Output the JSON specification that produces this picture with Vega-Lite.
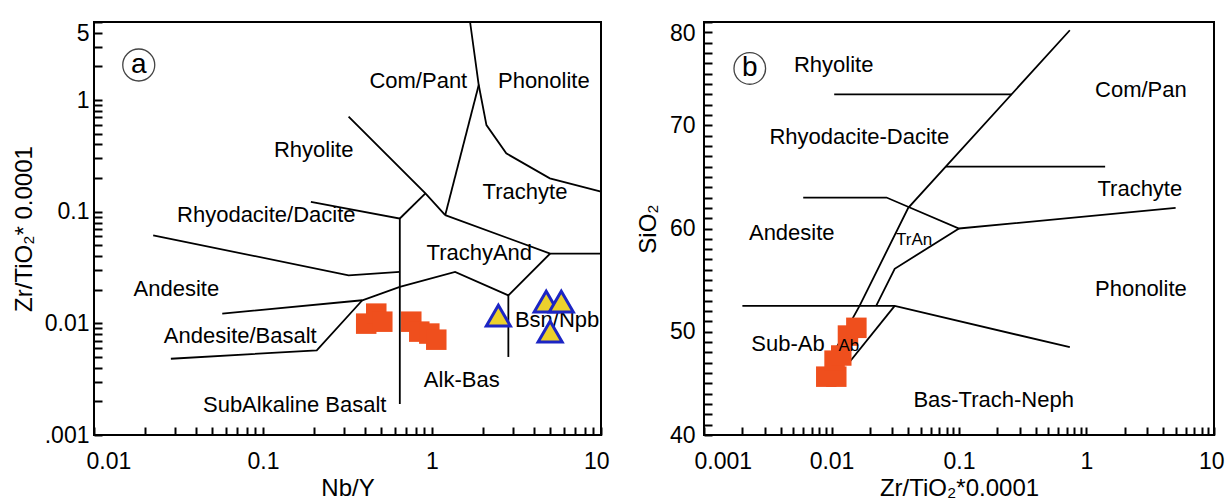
{
  "$schema": "https://vega.github.io/schema/vega-lite/v6.json",
  "padding": {"left": 11, "top": 17, "right": 0, "bottom": 0},
  "background": "white",
  "spacing": 103,
  "bounds": "flush",
  "config": {
    "font": "Liberation Sans",
    "view": {"stroke": "black", "strokeWidth": 2},
    "axis": {"grid": false, "domain": false, "labelColor": "black", "labelFont": "Liberation Sans", "labelFontSize": 23, "titleFont": "Liberation Sans", "titleFontSize": 24, "titleFontWeight": "normal", "titleColor": "black", "labelOverlap": false, "labelAngle": 0},
    "text": {"font": "Liberation Sans", "color": "black"}
  },
  "datasets": {
    "a_lines": [
      {"g": 1, "i": 1, "x": 1.68, "y": 5}, {"g": 1, "i": 2, "x": 1.89, "y": 1.363}, {"g": 1, "i": 3, "x": 2.1, "y": 0.597}, {"g": 1, "i": 4, "x": 2.75, "y": 0.333}, {"g": 1, "i": 5, "x": 4.98, "y": 0.199}, {"g": 1, "i": 6, "x": 10, "y": 0.151},
      {"g": 2, "i": 1, "x": 1.89, "y": 1.363}, {"g": 2, "i": 2, "x": 1.197, "y": 0.093},
      {"g": 3, "i": 1, "x": 0.321, "y": 0.71}, {"g": 3, "i": 2, "x": 0.9145, "y": 0.1456}, {"g": 3, "i": 3, "x": 1.197, "y": 0.093},
      {"g": 4, "i": 1, "x": 0.9145, "y": 0.1456}, {"g": 4, "i": 2, "x": 0.645, "y": 0.0869},
      {"g": 5, "i": 1, "x": 0.192, "y": 0.1227}, {"g": 5, "i": 2, "x": 0.645, "y": 0.0869}, {"g": 5, "i": 3, "x": 0.645, "y": 0.0019},
      {"g": 6, "i": 1, "x": 1.197, "y": 0.093}, {"g": 6, "i": 2, "x": 5, "y": 0.0422}, {"g": 6, "i": 3, "x": 10, "y": 0.0422},
      {"g": 7, "i": 1, "x": 0.0224, "y": 0.0615}, {"g": 7, "i": 2, "x": 0.321, "y": 0.0269}, {"g": 7, "i": 3, "x": 0.645, "y": 0.0289},
      {"g": 8, "i": 1, "x": 0.0574, "y": 0.0122}, {"g": 8, "i": 2, "x": 0.387, "y": 0.0161}, {"g": 8, "i": 3, "x": 0.645, "y": 0.0212}, {"g": 8, "i": 4, "x": 1.37, "y": 0.0289}, {"g": 8, "i": 5, "x": 2.83, "y": 0.0178}, {"g": 8, "i": 6, "x": 5, "y": 0.0422},
      {"g": 9, "i": 1, "x": 0.0285, "y": 0.00482}, {"g": 9, "i": 2, "x": 0.208, "y": 0.00573}, {"g": 9, "i": 3, "x": 0.387, "y": 0.0161},
      {"g": 10, "i": 1, "x": 2.83, "y": 0.0178}, {"g": 10, "i": 2, "x": 2.83, "y": 0.005}
    ],
    "a_text": [
      {"t": "Com/Pant", "x": 0.83, "y": 1.486},
      {"t": "Phonolite", "x": 4.59, "y": 1.486},
      {"t": "Rhyolite", "x": 0.1993, "y": 0.356},
      {"t": "Trachyte", "x": 3.55, "y": 0.1486},
      {"t": "Rhyodacite/Dacite", "x": 0.1046, "y": 0.093},
      {"t": "TrachyAnd", "x": 1.905, "y": 0.0431},
      {"t": "Andesite", "x": 0.0307, "y": 0.0205},
      {"t": "Andesite/Basalt", "x": 0.0734, "y": 0.0077},
      {"t": "Bsn/Npb", "x": 5.5, "y": 0.0108},
      {"t": "Alk-Bas", "x": 1.5, "y": 0.00308},
      {"t": "SubAlkaline Basalt", "x": 0.154, "y": 0.00184}
    ],
    "a_sq": [
      {"x": 0.408, "y": 0.00994}, {"x": 0.468, "y": 0.01222}, {"x": 0.508, "y": 0.01035},
      {"x": 0.754, "y": 0.01035}, {"x": 0.841, "y": 0.00843}, {"x": 0.964, "y": 0.0081}, {"x": 1.06, "y": 0.00714}
    ],
    "a_tri": [
      {"x": 2.47, "y": 0.01172}, {"x": 4.74, "y": 0.01563}, {"x": 5.82, "y": 0.01563}, {"x": 5.0, "y": 0.00843}
    ],
    "a_tag": [{"t": "a", "x": 0.0184, "y": 2.06}],
    "b_lines": [
      {"g": 1, "i": 1, "x": 0.74, "y": 79.2}, {"g": 1, "i": 2, "x": 0.04, "y": 62}, {"g": 1, "i": 3, "x": 0.0166, "y": 52.5}, {"g": 1, "i": 4, "x": 0.0096, "y": 47.2},
      {"g": 2, "i": 1, "x": 0.0105, "y": 73}, {"g": 2, "i": 2, "x": 0.259, "y": 73},
      {"g": 3, "i": 1, "x": 0.079, "y": 66}, {"g": 3, "i": 2, "x": 1.4, "y": 66},
      {"g": 4, "i": 1, "x": 0.006, "y": 63}, {"g": 4, "i": 2, "x": 0.027, "y": 63}, {"g": 4, "i": 3, "x": 0.1, "y": 60}, {"g": 4, "i": 4, "x": 5, "y": 62},
      {"g": 5, "i": 1, "x": 0.1, "y": 60}, {"g": 5, "i": 2, "x": 0.0313, "y": 56.1}, {"g": 5, "i": 3, "x": 0.0224, "y": 52.5},
      {"g": 6, "i": 1, "x": 0.002, "y": 52.5}, {"g": 6, "i": 2, "x": 0.0313, "y": 52.5}, {"g": 6, "i": 3, "x": 0.74, "y": 48.5},
      {"g": 7, "i": 1, "x": 0.0313, "y": 52.5}, {"g": 7, "i": 2, "x": 0.0137, "y": 47}
    ],
    "b_text": [
      {"t": "Rhyolite", "x": 0.01039, "y": 75.82},
      {"t": "Com/Pan", "x": 2.67, "y": 73.4},
      {"t": "Rhyodacite-Dacite", "x": 0.01652, "y": 68.87},
      {"t": "Trachyte", "x": 2.62, "y": 63.86},
      {"t": "Andesite", "x": 0.00488, "y": 59.6},
      {"t": "Phonolite", "x": 2.67, "y": 54.16},
      {"t": "Sub-Ab", "x": 0.00456, "y": 48.83},
      {"t": "Bas-Trach-Neph", "x": 0.187, "y": 43.4}
    ],
    "b_small": [
      {"t": "TrAn", "x": 0.0445, "y": 58.9},
      {"t": "Ab", "x": 0.01368, "y": 48.58}
    ],
    "b_sq": [
      {"x": 0.0091, "y": 45.65}, {"x": 0.0109, "y": 45.65}, {"x": 0.01057, "y": 47.2}, {"x": 0.01193, "y": 47.7}, {"x": 0.01346, "y": 49.63}, {"x": 0.01567, "y": 50.38}
    ],
    "b_tag": [{"t": "b", "x": 0.002286, "y": 75.5}]
  },
  "hconcat": [
    {
      "width": 507,
      "height": 413,
      "layer": [
        {
          "data": {"name": "a_lines"},
          "mark": {"type": "line", "color": "black", "strokeWidth": 1.8},
          "encoding": {
            "x": {"field": "x", "type": "quantitative", "scale": {"type": "log", "domain": [0.01, 10], "nice": false},
              "axis": {"orient": "bottom", "values": [0.01,0.02,0.03,0.04,0.05,0.06,0.07,0.08,0.09,0.1,0.2,0.3,0.4,0.5,0.6,0.7,0.8,0.9,1,2,3,4,5,6,7,8,9,10], "offset": -8, "tickSize": 8, "tickColor": "black", "tickWidth": 2,
                "labelExpr": "datum.value==0.01?'0.01':datum.value==0.1?'0.1':datum.value==1?'1':datum.value==10?'10':''",
                "labelPadding": 15, "labelFlush": true, "labelFlushOffset": 8,
                "title": "Nb/Y", "titlePadding": 6, "minExtent": 43, "maxExtent": 43}},
            "y": {"field": "y", "type": "quantitative", "scale": {"type": "log", "domain": [0.001, 5], "nice": false},
              "axis": {"orient": "left", "values": [0.001,0.002,0.003,0.004,0.005,0.006,0.007,0.008,0.009,0.01,0.02,0.03,0.04,0.05,0.06,0.07,0.08,0.09,0.1,0.2,0.3,0.4,0.5,0.6,0.7,0.8,0.9,1,2,3,4,5], "offset": -8, "tickSize": 8, "tickColor": "black", "tickWidth": 2,
                "labelExpr": "datum.value==5?'5':datum.value==1?'1':datum.value==0.1?'0.1':datum.value==0.01?'0.01':datum.value==0.001?'.001':''",
                "labelPadding": 5,
                "labelBaseline": {"condition": {"test": "datum.value==5", "value": "top"}, "value": "middle"},
                "title": "Zr/TiO₂* 0.0001", "titlePadding": 8, "minExtent": 58, "maxExtent": 58}},
            "detail": {"field": "g", "type": "nominal"},
            "order": {"field": "i", "type": "quantitative"}
          }
        },
        {
          "data": {"name": "a_text"},
          "mark": {"type": "text", "fontSize": 22, "align": "center", "baseline": "middle"},
          "encoding": {
            "x": {"field": "x", "type": "quantitative", "scale": {"type": "log", "domain": [0.01, 10], "nice": false}, "axis": null},
            "y": {"field": "y", "type": "quantitative", "scale": {"type": "log", "domain": [0.001, 5], "nice": false}, "axis": null},
            "text": {"field": "t", "type": "nominal"}
          }
        },
        {
          "data": {"name": "a_sq"},
          "mark": {"type": "point", "shape": "square", "filled": true, "color": "#ef4f1d", "opacity": 1, "size": 420},
          "encoding": {
            "x": {"field": "x", "type": "quantitative", "scale": {"type": "log", "domain": [0.01, 10], "nice": false}, "axis": null},
            "y": {"field": "y", "type": "quantitative", "scale": {"type": "log", "domain": [0.001, 5], "nice": false}, "axis": null}
          }
        },
        {
          "data": {"name": "a_tri"},
          "mark": {"type": "point", "shape": "triangle-up", "filled": true, "fill": "#ecd12c", "stroke": "#1c25c4", "strokeWidth": 3, "opacity": 1, "size": 580},
          "encoding": {
            "x": {"field": "x", "type": "quantitative", "scale": {"type": "log", "domain": [0.01, 10], "nice": false}, "axis": null},
            "y": {"field": "y", "type": "quantitative", "scale": {"type": "log", "domain": [0.001, 5], "nice": false}, "axis": null}
          }
        },
        {
          "data": {"name": "a_tag"},
          "mark": {"type": "point", "shape": "circle", "filled": false, "stroke": "#444444", "strokeWidth": 1.3, "opacity": 1, "size": 1024},
          "encoding": {
            "x": {"field": "x", "type": "quantitative", "scale": {"type": "log", "domain": [0.01, 10], "nice": false}, "axis": null},
            "y": {"field": "y", "type": "quantitative", "scale": {"type": "log", "domain": [0.001, 5], "nice": false}, "axis": null}
          }
        },
        {
          "data": {"name": "a_tag"},
          "mark": {"type": "text", "fontSize": 28, "align": "center", "baseline": "middle"},
          "encoding": {
            "x": {"field": "x", "type": "quantitative", "scale": {"type": "log", "domain": [0.01, 10], "nice": false}, "axis": null},
            "y": {"field": "y", "type": "quantitative", "scale": {"type": "log", "domain": [0.001, 5], "nice": false}, "axis": null},
            "text": {"field": "t", "type": "nominal"}
          }
        }
      ],
      "resolve": {"axis": {"x": "independent", "y": "independent"}}
    },
    {
      "width": 510,
      "height": 413,
      "layer": [
        {
          "data": {"name": "b_lines"},
          "mark": {"type": "line", "color": "black", "strokeWidth": 1.8},
          "encoding": {
            "x": {"field": "x", "type": "quantitative", "scale": {"type": "log", "domain": [0.001, 10], "nice": false},
              "axis": {"orient": "bottom", "values": [0.001,0.002,0.003,0.004,0.005,0.006,0.007,0.008,0.009,0.01,0.02,0.03,0.04,0.05,0.06,0.07,0.08,0.09,0.1,0.2,0.3,0.4,0.5,0.6,0.7,0.8,0.9,1,2,3,4,5,6,7,8,9,10], "offset": -8, "tickSize": 8, "tickColor": "black", "tickWidth": 2,
                "labelExpr": "datum.value==0.001?'0.001':datum.value==0.01?'0.01':datum.value==0.1?'0.1':datum.value==1?'1':datum.value==10?'10':''",
                "labelPadding": 15, "labelFlush": true, "labelFlushOffset": 10,
                "title": "Zr/TiO₂*0.0001", "titlePadding": 6, "minExtent": 43, "maxExtent": 43}},
            "y": {"field": "y", "type": "quantitative", "scale": {"domain": [40, 80], "nice": false, "zero": false},
              "axis": {"orient": "left", "values": [40,41,42,43,44,45,46,47,48,49,50,51,52,53,54,55,56,57,58,59,60,61,62,63,64,65,66,67,68,69,70,71,72,73,74,75,76,77,78,79,80], "offset": -8, "tickSize": 8, "tickColor": "black", "tickWidth": 2,
                "labelExpr": "datum.value%10==0?format(datum.value,'d'):''",
                "labelPadding": 9,
                "labelBaseline": {"condition": {"test": "datum.value==80", "value": "top"}, "value": "middle"},
                "title": "SiO₂", "titlePadding": 8, "minExtent": 44, "maxExtent": 44}},
            "detail": {"field": "g", "type": "nominal"},
            "order": {"field": "i", "type": "quantitative"}
          }
        },
        {
          "data": {"name": "b_text"},
          "mark": {"type": "text", "fontSize": 22, "align": "center", "baseline": "middle"},
          "encoding": {
            "x": {"field": "x", "type": "quantitative", "scale": {"type": "log", "domain": [0.001, 10], "nice": false}, "axis": null},
            "y": {"field": "y", "type": "quantitative", "scale": {"domain": [40, 80], "nice": false, "zero": false}, "axis": null},
            "text": {"field": "t", "type": "nominal"}
          }
        },
        {
          "data": {"name": "b_sq"},
          "mark": {"type": "point", "shape": "square", "filled": true, "color": "#ef4f1d", "opacity": 1, "size": 420},
          "encoding": {
            "x": {"field": "x", "type": "quantitative", "scale": {"type": "log", "domain": [0.001, 10], "nice": false}, "axis": null},
            "y": {"field": "y", "type": "quantitative", "scale": {"domain": [40, 80], "nice": false, "zero": false}, "axis": null}
          }
        },
        {
          "data": {"name": "b_small"},
          "mark": {"type": "text", "fontSize": 17, "align": "center", "baseline": "middle"},
          "encoding": {
            "x": {"field": "x", "type": "quantitative", "scale": {"type": "log", "domain": [0.001, 10], "nice": false}, "axis": null},
            "y": {"field": "y", "type": "quantitative", "scale": {"domain": [40, 80], "nice": false, "zero": false}, "axis": null},
            "text": {"field": "t", "type": "nominal"}
          }
        },
        {
          "data": {"name": "b_tag"},
          "mark": {"type": "point", "shape": "circle", "filled": false, "stroke": "#444444", "strokeWidth": 1.3, "opacity": 1, "size": 1000},
          "encoding": {
            "x": {"field": "x", "type": "quantitative", "scale": {"type": "log", "domain": [0.001, 10], "nice": false}, "axis": null},
            "y": {"field": "y", "type": "quantitative", "scale": {"domain": [40, 80], "nice": false, "zero": false}, "axis": null}
          }
        },
        {
          "data": {"name": "b_tag"},
          "mark": {"type": "text", "fontSize": 28, "align": "center", "baseline": "middle"},
          "encoding": {
            "x": {"field": "x", "type": "quantitative", "scale": {"type": "log", "domain": [0.001, 10], "nice": false}, "axis": null},
            "y": {"field": "y", "type": "quantitative", "scale": {"domain": [40, 80], "nice": false, "zero": false}, "axis": null},
            "text": {"field": "t", "type": "nominal"}
          }
        }
      ],
      "resolve": {"axis": {"x": "independent", "y": "independent"}}
    }
  ]
}
